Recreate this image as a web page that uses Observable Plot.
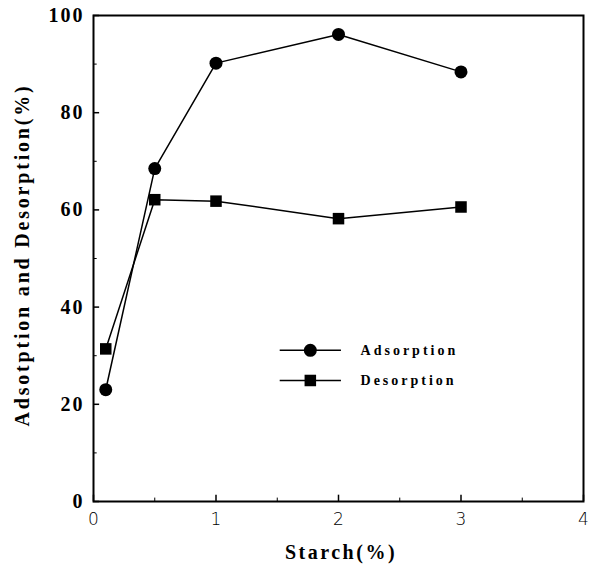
<!DOCTYPE html>
<html><head><meta charset="utf-8">
<script src="https://cdn.jsdelivr.net/npm/d3@7"></script>
<script src="https://cdn.jsdelivr.net/npm/@observablehq/plot@0.6"></script>
<style>body{margin:0;background:#fff}</style>
</head><body><div id="chart"></div>
<script>
const starch = [0.1, 0.5, 1, 2, 3];
const adsorption = [23.0, 68.5, 90.2, 96.1, 88.4];
const desorption = [31.4, 62.1, 61.8, 58.2, 60.6];
const seriesNames = ["Adsorption", "Desorption"];
const xTicks = [0, 1, 2, 3, 4];
const yTicks = [0, 20, 40, 60, 80, 100];
const xMinor = [0.5, 1.5, 2.5, 3.5];
const yMinor = [10, 30, 50, 70, 90];

const data = [];
starch.forEach((s, i) => {
  data.push({x: s, y: adsorption[i], series: seriesNames[0]});
  data.push({x: s, y: desorption[i], series: seriesNames[1]});
});
const symbols = {Adsorption: "circle", Desorption: "square"};
// legend placement (in data coordinates)
const legX0 = 1.52, legX1 = 2.02, legXm = 1.77, legXt = 2.18;
const legY = {Adsorption: 31.1, Desorption: 24.9};
const legend = seriesNames.map(n => ({name: n, y: legY[n]}));

const serif = "'Liberation Serif', 'DejaVu Serif', serif";
const plot = Plot.plot({
  width: 596, height: 566,
  marginLeft: 93, marginRight: 13, marginTop: 15, marginBottom: 65,
  style: {fontFamily: serif, background: "#fff", color: "#000"},
  x: {domain: [0, 4]},
  y: {domain: [0, 100]},
  marks: [
    Plot.ruleX(xTicks, {y1: 0, y2: 1.3, stroke: "#000", strokeWidth: 1.5}),
    Plot.ruleX(xMinor, {y1: 0, y2: 0.7, stroke: "#000", strokeWidth: 1}),
    Plot.ruleY(yTicks, {x1: 0, x2: 0.05, stroke: "#000", strokeWidth: 1.5}),
    Plot.ruleY(yMinor, {x1: 0, x2: 0.03, stroke: "#000", strokeWidth: 1}),
    Plot.axisX({ticks: xTicks, tickSize: 0, tickPadding: 11, fontSize: 17, tickFormat: d3.format("d"),
      fontFamily: "'DejaVu Sans', sans-serif", fontWeight: 300, label: null}),
    Plot.axisY({ticks: yTicks, tickSize: 0, tickPadding: 9, fontSize: 20, tickFormat: d3.format("d"),
      fontWeight: "bold", label: null}),
    Plot.frame({stroke: "#000", strokeWidth: 2}),
    Plot.line(data, {x: "x", y: "y", z: "series", stroke: "#000", strokeWidth: 1.5}),
    Plot.dot(data, {x: "x", y: "y", symbol: d => symbols[d.series], fill: "#000", r: 6.5}),
    Plot.link(legend, {x1: legX0, x2: legX1, y1: "y", y2: "y", stroke: "#000", strokeWidth: 1.5}),
    Plot.dot(legend, {x: legXm, y: "y", symbol: d => symbols[d.name], fill: "#000", r: 6.5}),
    Plot.text(legend, {x: legXt, y: "y", text: "name", textAnchor: "start", fontSize: 14,
      fontWeight: "bold"})
  ]
});
const svg = d3.select(plot);
svg.selectAll('g[aria-label="y-axis tick label"] text').attr("letter-spacing", "2px");
svg.selectAll('g[aria-label="text"] text').attr("letter-spacing", "3px");
svg.append("text")
  .attr("x", 341).attr("y", 559)
  .attr("text-anchor", "middle")
  .attr("font-family", serif).attr("font-weight", "bold").attr("font-size", 20)
  .attr("letter-spacing", "2.5px")
  .text("Starch(%)");
svg.append("text")
  .attr("transform", "translate(29,255) rotate(-90)")
  .attr("text-anchor", "middle")
  .attr("font-family", serif).attr("font-weight", "bold").attr("font-size", 20)
  .attr("letter-spacing", "2.8px")
  .text("Adsotption and Desorption(%)");
document.getElementById("chart").append(plot);
</script>
</body></html>
